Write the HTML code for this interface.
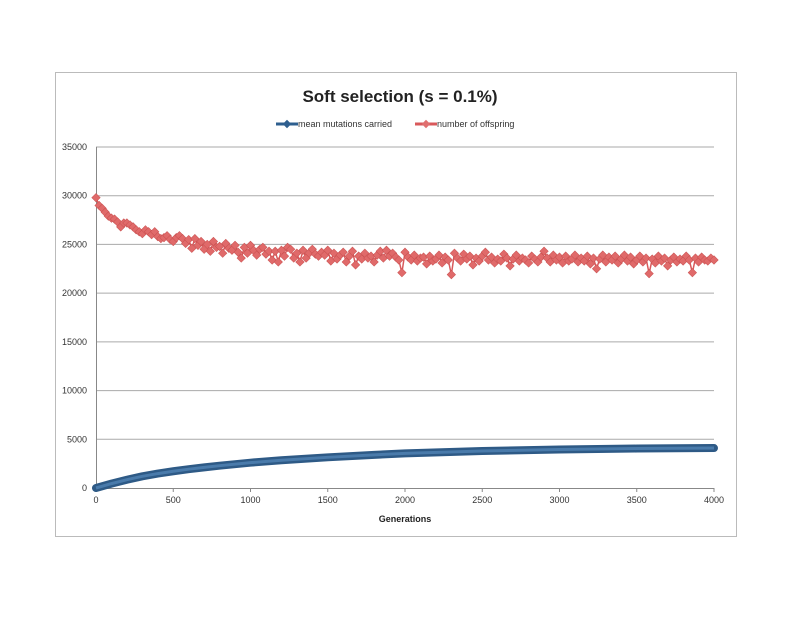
<!DOCTYPE html>
<html><head><meta charset="utf-8"><style>
body{margin:0;background:#fff;font-family:"Liberation Sans",sans-serif}
svg{display:block}
</style></head><body>
<svg width="800" height="618" id="c">
<rect x="55.5" y="72.5" width="681" height="464" fill="#fff" stroke="#bbb"/>
<text x="400" y="102" text-anchor="middle" font-size="17" font-weight="bold" fill="#222">Soft selection (s = 0.1%)</text>
<g font-size="9" fill="#333">
<g><line x1="276" y1="124" x2="298" y2="124" stroke="#2e5f8f" stroke-width="3"/><rect x="284" y="121" width="6" height="6" fill="#2e5f8f" transform="rotate(45 287 124)"/><text x="298" y="127">mean mutations carried</text></g>
<g><line x1="415" y1="124" x2="437" y2="124" stroke="#d9595b" stroke-width="3"/><rect x="423" y="121" width="6" height="6" fill="#e07070" transform="rotate(45 426 124)"/><text x="437" y="127">number of offspring</text></g>
</g>
<g id="grid"></g><g id="axes"></g><g id="series"></g>
<text x="405" y="522" text-anchor="middle" font-size="9" font-weight="bold" fill="#222">Generations</text>
</svg>
<script>
const yTicks=[0,5000,10000,15000,20000,25000,30000,35000];
const xTicks=[0,500,1000,1500,2000,2500,3000,3500,4000];
const mutGens=[0,100,200,300,400,500,600,700,800,1000,1200,1500,1800,2000,2500,3000,3500,4000];
const mutVals=[0,450,850,1200,1480,1720,1930,2120,2290,2600,2850,3150,3400,3550,3800,3950,4050,4100];
const offStep=20;
const offVals=[29800,29000,28700,28300,27900,27700,27600,27300,26800,27200,27200,27000,26800,26500,26300,26100,26500,26300,26000,26300,
25800,25600,25700,25900,25500,25300,25700,25900,25600,25100,25500,24600,25600,24900,25300,24500,25000,24300,25300,24700,
24800,24100,25100,24600,24400,24900,24200,23600,24700,24100,24900,24400,23900,24500,24700,24000,24300,23400,24300,23200,
24400,23800,24700,24500,23600,24100,23200,24400,23600,24100,24500,24000,23800,24200,23900,24400,23300,24100,23500,23900,
24200,23200,23800,24300,22900,23800,23500,24100,23600,23800,23200,23900,24300,23600,24400,23800,24100,23700,23400,22100,
24200,23700,23400,23900,23300,23600,23700,23000,23800,23300,23500,23900,23100,23700,23400,21900,24100,23600,23300,24000,
23500,23800,22900,23600,23300,23800,24200,23400,23700,23100,23500,23300,24000,23600,22800,23500,23900,23300,23600,23400,
23100,23800,23500,23200,23700,24300,23600,23200,23900,23400,23700,23100,23800,23300,23500,23900,23200,23600,23300,23800,
23000,23600,22500,23500,23900,23200,23700,23400,23800,23100,23500,23900,23300,23700,23000,23400,23800,23200,23600,22000,
23500,23100,23800,23300,23600,22800,23400,23700,23200,23500,23300,23800,23400,22100,23600,23200,23700,23400,23300,23600,23400];
const X=v=>96+v/4000*618, Y=v=>488-v/35000*341;
const ns="http://www.w3.org/2000/svg";
function mk(t,a,p){const e=document.createElementNS(ns,t);for(const k in a)e.setAttribute(k,a[k]);p.appendChild(e);return e;}
const G=document.getElementById('grid'),A=document.getElementById('axes'),S=document.getElementById('series');
yTicks.forEach(v=>{
 if(v>0){const l=mk('line',{x1:96,x2:714,y1:Y(v),y2:Y(v),stroke:'#aaa','stroke-width':1},G);
 
 }
 const t=mk('text',{x:87,y:Y(v)+3,'text-anchor':'end','font-size':9,fill:'#333'},A);t.textContent=v;
 
 
});
xTicks.forEach(v=>{
 const t=mk('text',{x:X(v),y:503,'text-anchor':'middle','font-size':9,fill:'#333'},A);t.textContent=v;
 
 
 mk('line',{x1:X(v),x2:X(v),y1:488,y2:492,stroke:'#888'},A);
});
const ax=mk('line',{x1:96,x2:714,y1:488.5,y2:488.5,stroke:'#888'},A);


const ay=mk('line',{x1:96.5,x2:96.5,y1:147,y2:488,stroke:'#888'},A);


let d=offVals.map((v,i)=>(i?'L':'M')+X(i*offStep)+' '+Y(v)).join(' ');
const ol=mk('path',{d:d,fill:'none',stroke:'#d9595b','stroke-width':1.5},S);


offVals.forEach((v,i)=>{const x=X(i*offStep),y=Y(v);
 const r=mk('rect',{x:x-3,y:y-3,width:6,height:6,fill:'#e06a6a',stroke:'#c95050','stroke-width':0.5,transform:`rotate(45 ${x} ${y})`},S);
 
 });
d=mutGens.map((g,i)=>(i?'L':'M')+X(g)+' '+Y(mutVals[i])).join(' ');
const ml=mk('path',{d:d,fill:'none',stroke:'#2e5a86','stroke-width':8,'stroke-linecap':'round','stroke-linejoin':'round'},S);


const ml2=mk('path',{d:d,fill:'none',stroke:'#4a7bab','stroke-width':3},S);


</script>
</body></html>
